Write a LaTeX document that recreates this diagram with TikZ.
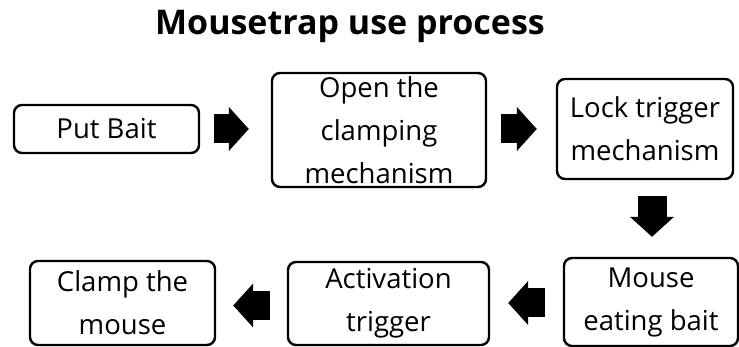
\documentclass[tikz,border=0pt]{standalone}
\usepackage{fontspec}
\setmainfont{Open Sans}
\usetikzlibrary{arrows.meta}
\begin{document}
\begin{tikzpicture}[x=1pt,y=-1pt,
  box/.style={draw=black, line width=2.4pt, rounded corners=8pt, inner sep=0pt},
  lbl/.style={font=\fontsize{27.5}{43}\selectfont, align=center, inner sep=0pt, text=black},
  blockarrow/.style={draw=black, line width=29pt, -{Triangle[length=20pt,width=43pt]}}]
\useasboundingbox (0,0) rectangle (739,347);
\node[font=\bfseries\fontsize{34}{40}\selectfont, inner sep=0pt] (title) at (350,26) {Mousetrap use process};
% boxes
\node[box, minimum width=185pt, minimum height=48pt] (put) at (106.5,129) {};
\node[box, minimum width=214pt, minimum height=114pt] (open) at (379,130) {};
\node[box, minimum width=176pt, minimum height=100pt] (lock) at (645,129) {};
\node[box, minimum width=174pt, minimum height=88pt] (mouse) at (651,302) {};
\node[box, minimum width=201pt, minimum height=83pt] (act) at (388.5,303.5) {};
\node[box, minimum width=185pt, minimum height=84pt] (clamp) at (122.5,303) {};
% labels
\node[lbl] (putT) at (put.center) {Put Bait};
\node[lbl] (openT) at (open.center) {Open the\\clamping\\mechanism};
\node[lbl] (lockT) at (lock.center) {Lock trigger\\mechanism};
\node[lbl] (mouseT) at (mouse.center) {Mouse\\eating bait};
\node[lbl] (actT) at (act.center) {Activation\\trigger};
\node[lbl] (clampT) at (clamp.center) {Clamp the\\mouse};
% arrow anchor helpers
\coordinate (m4) at ([yshift=-1pt]mouse.west);
\coordinate (a5) at ([yshift=-2pt]act.west);
% arrows
\draw[blockarrow] ([xshift=14pt]put.east) -- ([xshift=-22pt]open.west |- put.east);
\draw[blockarrow] ([xshift=14pt]open.east |- lock.west) -- ([xshift=-19pt]lock.west);
\draw[blockarrow] ([xshift=7pt,yshift=-16pt]lock.south) -- ([xshift=1pt,yshift=20pt]mouse.north);
\draw[blockarrow] ([xshift=-18pt]m4) -- ([xshift=18pt]act.east |- m4);
\draw[blockarrow] ([xshift=-17pt]a5) -- ([xshift=17pt]clamp.east |- a5);
\end{tikzpicture}
\end{document}
